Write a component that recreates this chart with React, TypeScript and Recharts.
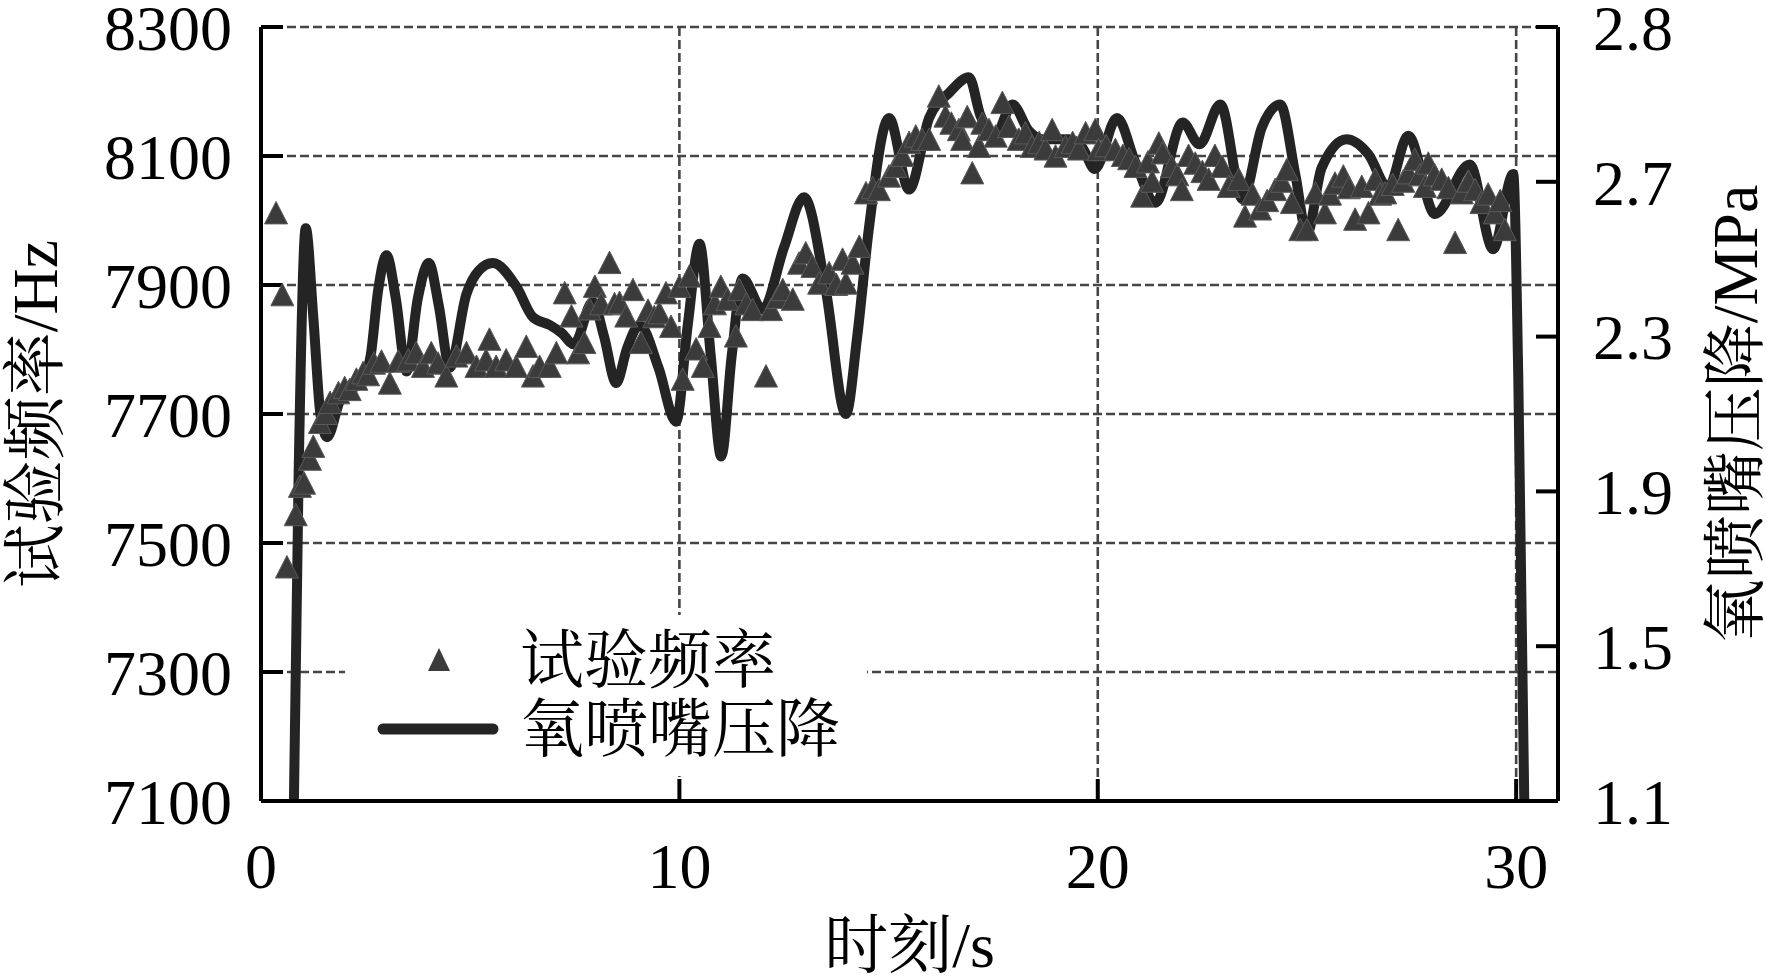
import React from 'react';
import { ComposedChart, Line, Scatter, XAxis, YAxis, CartesianGrid, Legend } from 'recharts';

// ---- data ----
const freqTime = [
  0.36, 0.51, 0.62, 0.83, 0.93, 1.03, 1.17, 1.25, 1.41, 1.55, 1.65, 1.85, 2.0, 2.12, 2.28, 2.44, 2.56, 2.7, 2.88, 3.08,
  3.28, 3.52, 3.71, 3.87, 4.07, 4.23, 4.43, 4.67, 4.91, 5.15, 5.38, 5.46, 5.62, 5.86, 6.1, 6.34, 6.5, 6.66, 6.9, 7.06,
  7.26, 7.42, 7.58, 7.73, 7.85, 7.98, 8.13, 8.33, 8.45, 8.57, 8.73, 8.89, 9.08, 9.25, 9.4, 9.52, 9.68, 9.8, 10.0, 10.08,
  10.24, 10.4, 10.56, 10.72, 10.85, 10.99, 11.15, 11.35, 11.43, 11.6, 11.75, 12.07, 12.19, 12.35, 12.47, 12.71, 12.86, 13.02, 13.18, 13.34,
  13.58, 13.75, 13.9, 13.98, 14.14, 14.3, 14.46, 14.62, 14.77, 15.01, 15.17, 15.33, 15.49, 15.65, 15.8, 15.97, 16.2, 16.36, 16.5, 16.68,
  16.76, 16.88, 17.0, 17.16, 17.24, 17.4, 17.56, 17.72, 17.88, 18.11, 18.27, 18.43, 18.6, 18.75, 18.91, 18.99, 19.23, 19.4, 19.55, 19.71,
  19.94, 20.02, 20.2, 20.42, 20.6, 20.75, 20.9, 21.06, 21.2, 21.3, 21.46, 21.55, 21.77, 21.9, 22.01, 22.17, 22.33, 22.5, 22.65, 22.8,
  22.97, 23.13, 23.37, 23.52, 23.7, 23.88, 24.05, 24.24, 24.4, 24.52, 24.64, 24.84, 25.0, 25.2, 25.43, 25.55, 25.67, 25.87, 26.0, 26.15,
  26.31, 26.47, 26.63, 26.75, 26.87, 27.05, 27.18, 27.3, 27.42, 27.58, 27.7, 27.82, 27.9, 28.05, 28.22, 28.38, 28.54, 28.7, 28.86, 29.02,
  29.17, 29.33, 29.49, 29.62, 29.73,
];
const freqHz = [
  8011, 7884, 7462, 7543, 7587, 7592, 7629, 7649, 7686, 7700, 7717, 7732, 7740, 7737, 7753, 7763, 7760, 7778, 7781, 7747,
  7781, 7783, 7794, 7773, 7794, 7778, 7758, 7789, 7794, 7773, 7783, 7815, 7773, 7783, 7773, 7804, 7758, 7773, 7773, 7794,
  7887, 7851, 7794, 7810, 7862, 7897, 7870, 7934, 7870, 7872, 7851, 7892, 7810, 7860, 7850, 7856, 7887, 7835, 7897, 7753,
  7913, 7800, 7773, 7835, 7870, 7897, 7877, 7820, 7892, 7870, 7861, 7758, 7861, 7880, 7892, 7877, 7933, 7949, 7928, 7902,
  7918, 7900, 7939, 7902, 7933, 7959, 8042, 8050, 8047, 8068, 8083, 8100, 8120, 8130, 8125, 8125, 8192, 8161, 8150, 8140,
  8125, 8160, 8073, 8114, 8150, 8140, 8130, 8182, 8145, 8125, 8135, 8114, 8120, 8110, 8140, 8099, 8114, 8120, 8110, 8135,
  8140, 8109, 8115, 8109, 8100, 8095, 8083, 8037, 8090, 8060, 8119, 8104, 8083, 8070, 8047, 8100, 8088, 8075, 8063, 8100,
  8083, 8052, 8063, 8006, 8040, 8017, 8030, 8047, 8060, 8078, 8027, 7985, 7985, 8042, 8011, 8040, 8057, 8068, 8050, 8001,
  8052, 8011, 8063, 8040, 8042, 8055, 7985, 8060, 8073, 8094, 8070, 8052, 8088, 8070, 8063, 8050, 7965, 8042, 8060, 8047,
  8027, 8040, 8011, 8030, 7985,
];

const pressureTime = [
  0.76, 0.9, 1.07, 1.25, 1.42, 1.58, 1.89, 2.12, 2.44, 2.62, 2.8, 3.0, 3.22, 3.48, 3.75, 4.01, 4.25, 4.51, 4.91, 5.2,
  5.54, 6.1, 6.5, 6.9, 7.18, 7.48, 7.93, 8.2, 8.49, 8.75, 9.05, 9.5, 9.92, 10.2, 10.48, 10.75, 11.0, 11.25, 11.51, 11.99,
  12.5, 12.98, 13.5, 13.98, 14.25, 14.53, 15.01, 15.49, 15.97, 16.45, 16.92, 17.2, 17.4, 17.56, 17.96, 18.35, 18.67, 19.31, 19.63, 19.93,
  20.46, 20.9, 21.38, 22.03, 22.43, 22.93, 23.46, 23.92, 24.36, 24.72, 25.0, 25.35, 25.95, 26.47, 26.94, 27.42, 28.06, 28.89, 29.45, 29.93,
  30.05, 30.22,
];
const pressureMPa = [
  0.9, 1.95, 2.58, 2.35, 2.1, 2.04, 2.135, 2.16, 2.19, 2.25, 2.42, 2.51, 2.4, 2.21, 2.4, 2.49, 2.38, 2.22, 2.41, 2.47,
  2.49, 2.43, 2.35, 2.33, 2.31, 2.28, 2.39, 2.3, 2.18, 2.27, 2.33, 2.22, 2.08, 2.33, 2.54, 2.25, 1.99, 2.25, 2.45, 2.37,
  2.53, 2.66, 2.42, 2.1, 2.3, 2.58, 2.865, 2.68, 2.865, 2.93, 2.97, 2.87, 2.832, 2.823, 2.9, 2.832, 2.81, 2.81, 2.789, 2.733,
  2.865, 2.75, 2.646, 2.853, 2.797, 2.9, 2.655, 2.84, 2.9, 2.72, 2.565, 2.736, 2.81, 2.771, 2.685, 2.819, 2.617, 2.745, 2.526, 2.72,
  2.2, 0.9,
];

const xTicks = [0, 10, 20, 30];
const leftTicks = [7100, 7300, 7500, 7700, 7900, 8100, 8300];
const rightTicks = [1.1, 1.5, 1.9, 2.3, 2.7, 3.1];
const rightTickLabels = ['1.1', '1.5', '1.9', '2.3', '2.7', '2.8'];

const seriesNames = ['试验频率', '氧喷嘴压降'];
const xTitle = '时刻/s';
const leftTitle = '试验频率/Hz';
const rightTitle = '氧喷嘴压降/MPa';

const freqData = freqTime.map((t, i) => ({ t, f: freqHz[i] }));
const pressureData = pressureTime.map((t, i) => ({ t, p: pressureMPa[i] }));

// ---- style ----
const FONT = "'Liberation Serif', 'Noto Serif CJK SC', 'Noto Sans CJK SC', serif";
const FS = 64;
const TRI_FILL = '#3b3b3b';
const LINE_COLOR = '#242424';

const Tri = (props: any) => {
  const { cx, cy } = props;
  if (cx == null || cy == null || isNaN(cx) || isNaN(cy)) return null;
  return (
    <path
      d={`M${cx},${cy - 12} L${cx + 11.5},${cy + 10.5} L${cx - 11.5},${cy + 10.5} Z`}
      fill={TRI_FILL}
      stroke="#5a5a5a"
      strokeWidth={1}
      strokeLinejoin="round"
    />
  );
};

const LegendBox = () => (
  <svg width={522} height={161} style={{ display: 'block', background: '#fff' }}>
    <rect x={0} y={0} width={522} height={161} fill="#fff" />
    <path d="M94,33 L105,56 L83,56 Z" fill={TRI_FILL} />
    <text x={175} y={45} fontSize={FS} fontFamily={FONT} dominantBaseline="central" fill="#000">
      {seriesNames[0]}
    </text>
    <line x1={38} y1={114} x2={148} y2={114} stroke={LINE_COLOR} strokeWidth={11} strokeLinecap="round" />
    <text x={175} y={114} fontSize={FS} fontFamily={FONT} dominantBaseline="central" fill="#000">
      {seriesNames[1]}
    </text>
  </svg>
);

const axisLine = { stroke: '#000', strokeWidth: 4 };
const tickLine = { stroke: '#000', strokeWidth: 4 };
const tickStyle = { fontSize: FS, fill: '#000', fontFamily: FONT };

const fmtRight = (v: number) => {
  const i = rightTicks.findIndex((r) => Math.abs(r - v) < 1e-6);
  return i >= 0 ? rightTickLabels[i] : String(v);
};

export default function App() {
  return (
    <div style={{ position: 'absolute', left: 0, top: 0, width: 1766, height: 978, background: '#fff' }}>
      <ComposedChart width={1766} height={978} margin={{ top: 27, right: 0, bottom: 0, left: 0 }}>
        <CartesianGrid
          xAxisId="x"
          yAxisId="left"
          stroke="#454545"
          strokeWidth={2.6}
          strokeDasharray="9 4"
        />
        <XAxis
          xAxisId="x"
          dataKey="t"
          type="number"
          domain={[0, 31]}
          ticks={xTicks}
          interval={0}
          allowDataOverflow
          height={177}
          tickSize={-22}
          tickMargin={64}
          axisLine={axisLine}
          tickLine={tickLine}
          tick={tickStyle}
          label={{ value: xTitle, position: 'center', dy: 55, fontSize: FS, fill: '#000', fontFamily: FONT }}
        />
        <XAxis
          xAxisId="top"
          orientation="top"
          type="number"
          domain={[0, 31]}
          height={0}
          tick={false}
          tickLine={false}
          axisLine={axisLine}
        />
        <YAxis
          yAxisId="left"
          dataKey="f"
          type="number"
          domain={[7100, 8300]}
          ticks={leftTicks}
          interval={0}
          allowDataOverflow
          width={261}
          tickSize={-22}
          tickMargin={51}
          axisLine={axisLine}
          tickLine={tickLine}
          tick={tickStyle}
          label={{ value: leftTitle, position: 'center', angle: -90, dx: -96, fontSize: FS, fill: '#000', fontFamily: FONT }}
        />
        <YAxis
          yAxisId="right"
          orientation="right"
          dataKey="p"
          type="number"
          domain={[1.1, 3.1]}
          ticks={rightTicks}
          interval={0}
          allowDataOverflow
          width={208}
          tickSize={-22}
          tickMargin={57}
          tickFormatter={fmtRight}
          axisLine={axisLine}
          tickLine={tickLine}
          tick={tickStyle}
          label={{ value: rightTitle, position: 'center', angle: -90, dx: 72, fontSize: FS, fill: '#000', fontFamily: FONT }}
        />
        <Legend
          layout="horizontal"
          verticalAlign="middle"
          align="center"
          wrapperStyle={{ left: 345, top: 615, width: 522, height: 161 }}
          content={() => <LegendBox />}
        />
        <Scatter
          name={seriesNames[0]}
          xAxisId="x"
          yAxisId="left"
          data={freqData}
          dataKey="f"
          shape={Tri}
          isAnimationActive={false}
        />
        <Line
          name={seriesNames[1]}
          xAxisId="x"
          yAxisId="right"
          data={pressureData}
          dataKey="p"
          type="monotone"
          dot={false}
          activeDot={false}
          stroke={LINE_COLOR}
          strokeWidth={10}
          isAnimationActive={false}
        />
      </ComposedChart>
    </div>
  );
}
